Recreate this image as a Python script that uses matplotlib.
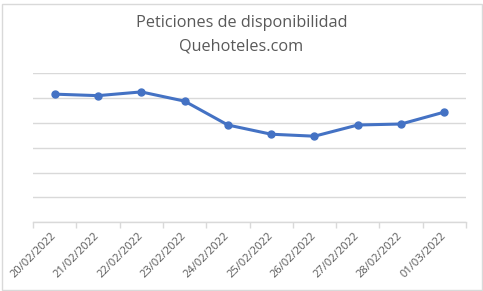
import matplotlib
matplotlib.use("Agg")
import matplotlib.pyplot as plt
from matplotlib.patches import Rectangle

# data (no y labels, values in arbitrary units)
fechas = ["20/02/2022", "21/02/2022", "22/02/2022", "23/02/2022", "24/02/2022",
          "25/02/2022", "26/02/2022", "27/02/2022", "28/02/2022", "01/03/2022"]
peticiones = [515, 509, 524, 487, 391, 354, 346, 391, 395, 443]

azul = "#4472C4"
gris_txt = "#595959"
gris_lin = "#D9D9D9"

plt.rcParams['font.family'] = ['Open Sans', 'DejaVu Sans']

fig = plt.figure(figsize=(4.83, 2.91), dpi=100)
ax = fig.add_axes([33 / 483, 1 - 222.3 / 291, (466 - 33) / 483, (222.3 - 73) / 291])

x = list(range(len(fechas)))
ax.plot(x, peticiones, color=azul, linewidth=2.2, marker="o", markersize=5,
        markerfacecolor=azul, markeredgecolor=azul, solid_capstyle="round")

ax.set_xlim(-0.5, len(fechas) - 0.5)
ax.set_ylim(0, 600)
ax.set_yticks(range(0, 601, 100))
ax.yaxis.grid(True, color=gris_lin, linewidth=1)
ax.set_axisbelow(True)
ax.tick_params(axis="y", left=False, labelleft=False)

ax.set_xticks(x)
ax.set_xticklabels(fechas, rotation=45, ha="right", va="center",
                   rotation_mode="anchor", fontsize=8, color=gris_txt)
ax.tick_params(axis="x", which="major", length=0, pad=9)
ax.set_xticks([i - 0.5 for i in range(len(fechas) + 1)], minor=True)
ax.tick_params(axis="x", which="minor", length=4, color=gris_lin, width=1)

for s in ["top", "right", "left"]:
    ax.spines[s].set_visible(False)
ax.spines["bottom"].set_color(gris_lin)
ax.spines["bottom"].set_linewidth(1)

fig.text(0.5, 1 - 23 / 291, "Peticiones de disponibilidad", ha="center",
         va="center", fontsize=11.7, color=gris_txt)
fig.text(0.5, 1 - 46.5 / 291, "Quehoteles.com", ha="center",
         va="center", fontsize=11.7, color=gris_txt)

fig.patches.append(Rectangle((2 / 483, 1 / 291), 480 / 483, 286 / 291,
                             transform=fig.transFigure, fill=False,
                             edgecolor=gris_lin, linewidth=1))

fig.savefig("out.png", dpi=100)
